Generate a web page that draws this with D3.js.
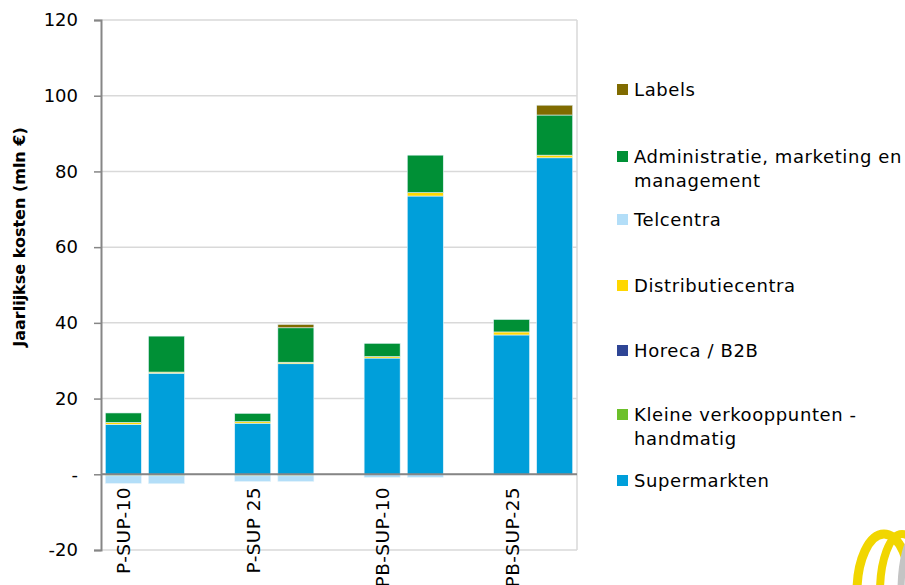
<!DOCTYPE html>
<html>
<head>
<meta charset="utf-8">
<script src="https://cdn.jsdelivr.net/npm/d3@7"></script>
<style>
  body { margin: 0; background: #fff; }
  svg { display: block; font-family: "DejaVu Sans", sans-serif; }
</style>
</head>
<body>
<script>
const width = 905;
const height = 585;

// data
const groups = ["P-SUP-10", "P-SUP 25", "PB-SUP-10", "PB-SUP-25"];
const seriesNames = [
  "Supermarkten",
  "Kleine verkooppunten - handmatig",
  "Horeca / B2B",
  "Distributiecentra",
  "Telcentra",
  "Administratie, marketing en management",
  "Labels"
];
// two bars per group, in order
const supermarkten = [13.2, 26.7, 13.5, 29.2, 30.7, 73.5, 36.8, 83.6];
const kleine = [-0.4, -0.4, -0.4, -0.4, -0.1, -0.1, -0.1, -0.1];
const horeca = [0, 0, 0, 0, 0, 0, 0, 0];
const distributie = [0.5, 0.3, 0.4, 0.4, 0.4, 0.9, 0.8, 0.7];
const telcentra = [-2.0, -2.1, -1.5, -1.5, -0.7, -0.7, -0.1, -0.1];
const administratie = [2.5, 9.5, 2.2, 9.1, 3.5, 9.9, 3.3, 10.6];
const labels = [0, 0, 0, 0.9, 0, 0, 0, 2.6];
const yTicks = [-20, 0, 20, 40, 60, 80, 100, 120];

const colors = {
  "Supermarkten": "#009fda",
  "Kleine verkooppunten - handmatig": "#6cc02a",
  "Horeca / B2B": "#2e4595",
  "Distributiecentra": "#ffd700",
  "Telcentra": "#b3def8",
  "Administratie, marketing en management": "#009036",
  "Labels": "#806b00"
};

const valuesBySeries = [supermarkten, kleine, horeca, distributie, telcentra, administratie, labels];
const rows = supermarkten.map((_, i) => {
  const r = { slot: Math.floor(i / 2) * 3 + (i % 2) };
  seriesNames.forEach((s, k) => { r[s] = valuesBySeries[k][i]; });
  return r;
});

const svg = d3.select("body").append("svg")
  .attr("width", width)
  .attr("height", height);

const x = d3.scaleBand()
  .domain(d3.range(11))
  .range([101, 577])
  .paddingInner(0.165)
  .paddingOuter(0.1);

const y = d3.scaleLinear()
  .domain([-20, 120])
  .range([550, 20]);

// plot frame + gridlines
svg.append("g")
  .selectAll("line")
  .data(yTicks)
  .join("line")
  .attr("x1", 101)
  .attr("x2", 577)
  .attr("y1", d => y(d))
  .attr("y2", d => y(d))
  .attr("stroke", "#d9d9d9")
  .attr("stroke-width", 1.5);

svg.append("line")
  .attr("x1", 577).attr("x2", 577)
  .attr("y1", y(120)).attr("y2", y(-20))
  .attr("stroke", "#d9d9d9")
  .attr("stroke-width", 1.5);

const stack = d3.stack()
  .keys(seriesNames)
  .offset(d3.stackOffsetDiverging);

const layers = stack(rows);

svg.append("g")
  .selectAll("g")
  .data(layers)
  .join("g")
  .attr("fill", d => colors[d.key])
  .selectAll("rect")
  .data(d => d.filter(p => p[1] - p[0] !== 0))
  .join("rect")
  .attr("x", d => x(d.data.slot))
  .attr("width", x.bandwidth())
  .attr("y", d => y(d[1]))
  .attr("height", d => y(d[0]) - y(d[1]))
  .attr("stroke", "#e6f4fb")
  .attr("stroke-width", 0.6);

// y axis
const yAxis = d3.axisLeft(y)
  .tickValues(yTicks)
  .tickSize(7)
  .tickFormat(d => (d === 0 ? "-" : d));

const yg = svg.append("g")
  .attr("transform", "translate(101,0)")
  .call(yAxis)
  .attr("font-family", null)
  .attr("font-size", null);
yg.select(".domain").attr("stroke", "#868686").attr("stroke-width", 2);
yg.selectAll(".tick line").attr("stroke", "#868686").attr("stroke-width", 1.5);
yg.selectAll(".tick text")
  .attr("x", -23)
  .attr("fill", "#000")
  .style("font-size", "18px");

// zero line
svg.append("line")
  .attr("x1", 101).attr("x2", 577)
  .attr("y1", y(0)).attr("y2", y(0))
  .attr("stroke", "#868686")
  .attr("stroke-width", 2);

// category labels
svg.append("g")
  .selectAll("text")
  .data(groups)
  .join("text")
  .attr("transform", (d, i) =>
    `translate(${x(i * 3) + x.bandwidth() / 2 + 7},487) rotate(-90)`)
  .attr("text-anchor", "end")
  .style("font-size", "18.5px")
  .style("letter-spacing", "0.4px")
  .text(d => d);

// y title
svg.append("text")
  .attr("transform", "translate(25,237) rotate(-90)")
  .attr("text-anchor", "middle")
  .style("font-size", "16px")
  .style("font-weight", "bold")
  .text("Jaarlijkse kosten (mln €)");

// legend
const legendItems = [
  { key: "Labels", lines: ["Labels"], y: 90 },
  { key: "Administratie, marketing en management", lines: ["Administratie, marketing en", "management"], y: 157 },
  { key: "Telcentra", lines: ["Telcentra"], y: 220 },
  { key: "Distributiecentra", lines: ["Distributiecentra"], y: 286 },
  { key: "Horeca / B2B", lines: ["Horeca / B2B"], y: 351 },
  { key: "Kleine verkooppunten - handmatig", lines: ["Kleine verkooppunten -", "handmatig"], y: 415 },
  { key: "Supermarkten", lines: ["Supermarkten"], y: 481 }
];

const legend = svg.append("g")
  .selectAll("g")
  .data(legendItems)
  .join("g")
  .attr("transform", d => `translate(617,${d.y})`);

legend.append("rect")
  .attr("x", 0)
  .attr("y", -6)
  .attr("width", 11)
  .attr("height", 11)
  .attr("fill", d => colors[d.key]);

legend.append("text")
  .attr("x", 17)
  .attr("y", 6)
  .style("font-size", "18px")
  .style("letter-spacing", "0.6px")
  .selectAll("tspan")
  .data(d => d.lines)
  .join("tspan")
  .attr("x", 17)
  .attr("dy", (d, i) => (i === 0 ? 0 : 24))
  .text(d => d);

// logo fragment, bottom right
const logo = svg.append("g");
logo.append("ellipse")
  .attr("cx", 884).attr("cy", 592).attr("rx", 27).attr("ry", 58)
  .attr("fill", "none").attr("stroke", "#f1d600").attr("stroke-width", 9);
logo.append("ellipse")
  .attr("cx", 902).attr("cy", 592).attr("rx", 22).attr("ry", 58)
  .attr("fill", "none").attr("stroke", "#f1d600").attr("stroke-width", 8);
logo.append("ellipse")
  .attr("cx", 916).attr("cy", 592).attr("rx", 15).attr("ry", 56)
  .attr("fill", "none").attr("stroke", "#c4c4c4").attr("stroke-width", 7);
</script>
</body>
</html>
